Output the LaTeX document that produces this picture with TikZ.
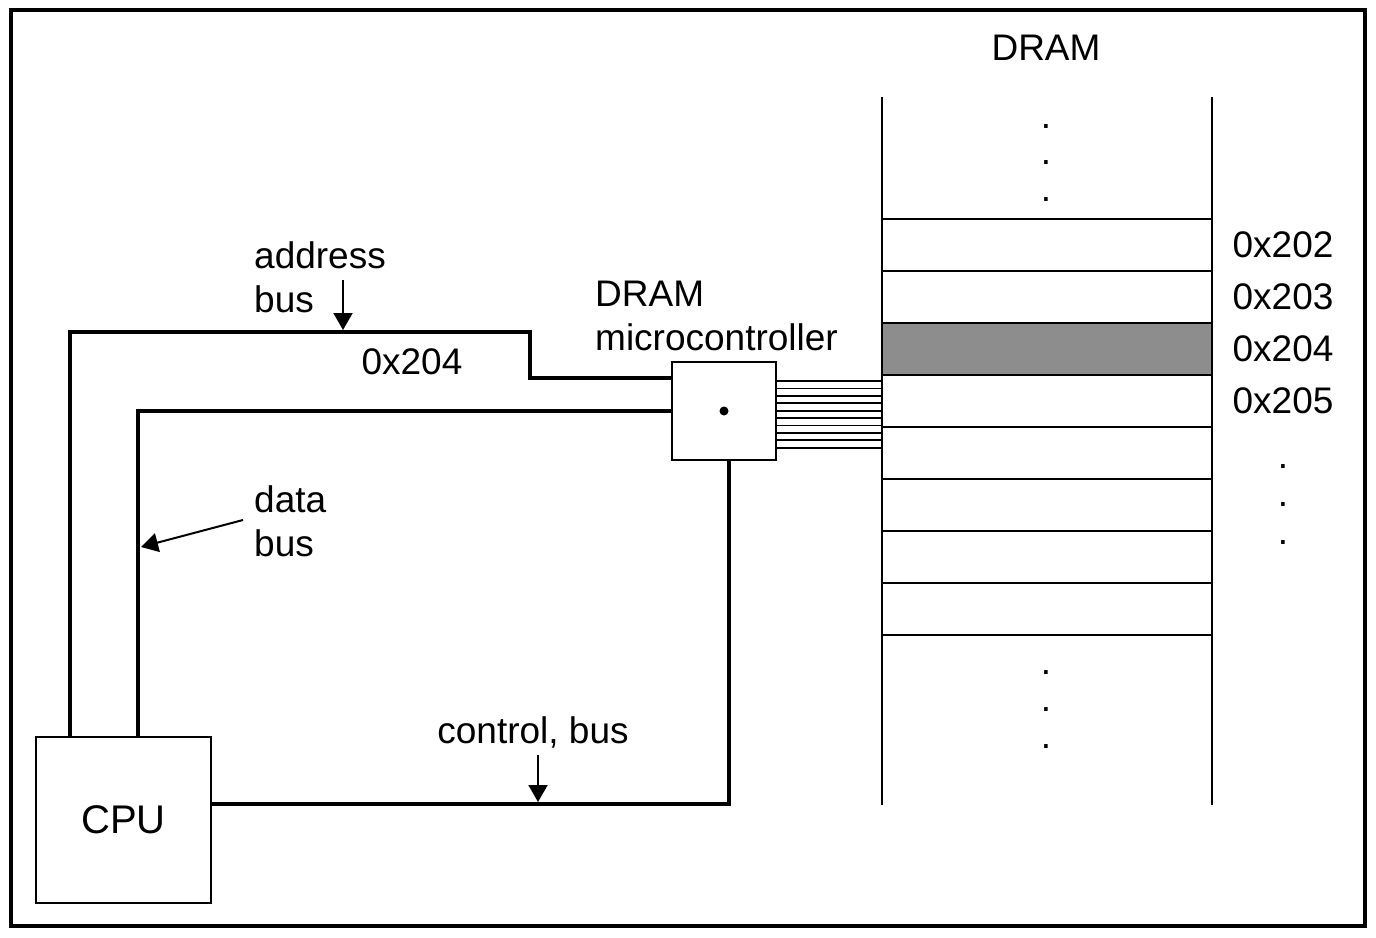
\documentclass[tikz,border=0pt]{standalone}
\usepackage{fontspec}
\setmainfont{Liberation Sans}
\usetikzlibrary{arrows.meta,positioning}
\definecolor{cellgray}{RGB}{141,141,141}
\tikzset{
	lbl/.style = {inner sep=0pt, align=left,
		font=\fontsize{37}{44}\selectfont},
	box/.style = {draw, line width=2pt, inner sep=0pt,
		font=\fontsize{40}{44}\selectfont},% CPU et controleur
	cell/.style = {draw, line width=1.5pt, inner sep=0pt,
		minimum width=330pt, minimum height=52pt},% case memoire
	bus/.style = {line width=3.5pt},
	ptr/.style = {-{Triangle[width=19pt,length=17pt]}, line width=2pt}
}
\begin{document}
\begin{tikzpicture}[x=1pt,y=-1pt]
\useasboundingbox (0,0) rectangle (1376,937);
\draw[line width=4pt] (11,10) rectangle (1365,926);

% boites
\node [box, minimum width=175pt, minimum height=166pt] (cpu) at (123.5,820) {CPU};
\node [box, minimum width=104pt, minimum height=98pt] (mc) at (724,411) {};
\fill (mc.center) circle (4.5pt);

% memoire
\draw[line width=1.5pt] (882,97) -- (882,805) (1212,97) -- (1212,805);
\foreach \i in {0,...,7}
	\node [cell] (c\i) at (1047,245+52*\i) {};
\node [cell, fill=cellgray] (c2) at (1047,349) {};
\foreach \txt [count=\i from 0] in {0x202,0x203,0x204,0x205}
	\node [lbl] (a\i) at (1283,245+52*\i) {\txt};
\foreach \y [count=\i] in {127,163,200,673,710,747}
	\node [lbl] (d\i) at (1046,\y) {.};
\foreach \y [count=\i] in {467,505,543}
	\node [lbl] (r\i) at (1283,\y) {.};
\node [lbl] (dram) at (1046,48) {DRAM};

% bus
\draw[bus] ([xshift=35pt]cpu.north west) |- (530,332) |- ([yshift=33pt]mc.west);
\draw[bus] ([xshift=103pt]cpu.north west) |- (mc.west);
\draw[bus] ([xshift=5pt]mc.south) |- (cpu.east |- 0,804);
\foreach \i in {0,...,9}
	\draw[line width=1.8pt] (mc.east |- 0,381+7.4*\i) -- (c0.west |- 0,381+7.4*\i);

% etiquettes
\node [lbl, anchor=west] (abus) at (254,277) {address\\bus};
\node [lbl] (aval) at (412,362) {0x204};
\node [lbl, anchor=west] (mclbl) at (595,316) {DRAM\\microcontroller};
\node [lbl, anchor=west] (dbus) at (254,521) {data\\bus};
\node [lbl] (cbus) at (533,732) {control, bus};
\coordinate (abs) at (343,280);
\coordinate (abe) at (343,330);
\coordinate (dbs) at (243,520);
\coordinate (dbe) at (141,547);
\coordinate (cbs) at (538,755);
\coordinate (cbe) at (538,802);
\draw[ptr] (abs) -- (abe);
\draw[ptr] (dbs) -- (dbe);
\draw[ptr] (cbs) -- (cbe);
\end{tikzpicture}
\end{document}
